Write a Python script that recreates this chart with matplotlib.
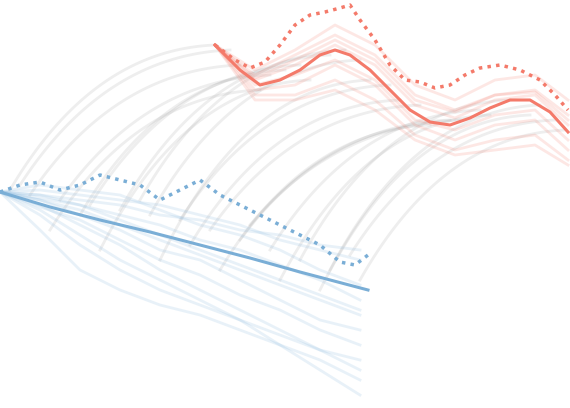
import matplotlib
matplotlib.use("Agg")
import matplotlib.pyplot as plt
import numpy as np

blue_mean_x = [0, 50, 100, 150, 200, 250, 300, 368]
blue_mean_y = [192, 207, 220, 232, 245, 258, 272, 290]
blue_dot_x = [0,20,40,60,80,100,120,140,160,180,200,220,240,260,280,300,320,340,355,368]
blue_dot_y = [192,185,182,190,185,175,180,185,200,190,180,195,205,215,225,235,245,262,265,255]
red_mean_x = [215,240,260,280,300,320,335,350,370,390,410,430,450,470,490,510,530,550,568]
red_mean_y = [45,70,85,80,70,55,50,55,70,90,110,122,125,118,108,100,100,112,132]
red_dot_x = [215,235,250,265,280,295,310,325,340,350,360,375,390,405,420,435,450,465,480,500,520,540,555,568]
red_dot_y = [45,60,68,62,45,25,15,12,8,5,20,40,65,80,82,88,85,75,68,65,70,80,95,110]

faint_blue_x = [0,40,80,120,160,200,240,280,320,360]
faint_blue = [
 [192,200,210,225,240,255,270,285,300,315],
 [192,205,225,245,270,290,310,330,350,370],
 [192,195,200,205,215,220,230,235,245,250],
 [192,210,235,260,280,300,320,345,370,395],
 [192,200,215,230,250,260,280,300,320,330],
 [192,190,195,200,205,215,225,240,250,260],
 [192,215,245,270,290,305,320,335,350,360],
 [192,198,205,220,235,250,265,280,295,310],
 [192,185,190,195,210,225,235,250,270,285],
 [192,207,220,240,260,275,295,310,330,345],
 [192,230,270,290,305,315,330,345,360,380],
 [192,195,205,215,225,240,250,265,280,300],
]
faint_red_x = [215,255,295,335,375,415,455,495,535,568]
faint_red = [
 [45,90,85,65,85,125,140,125,120,150],
 [45,75,55,35,55,95,110,95,90,115],
 [45,95,95,80,100,135,150,140,135,160],
 [45,70,50,25,45,85,100,80,75,100],
 [45,85,75,60,80,120,130,115,110,140],
 [45,80,65,45,65,105,118,100,95,125],
 [45,100,100,90,110,140,155,150,145,165],
 [45,78,60,40,60,100,112,95,92,120],
]
links = [((10,190),(215,45)),((30,195),(240,65)),((60,200),(270,75)),((90,205),(300,65)),
 ((120,210),(330,55)),((150,215),(360,60)),((180,220),(390,85)),((210,230),(420,105)),
 ((240,240),(450,120)),((270,250),(480,110)),((300,260),(510,100)),((330,270),(540,105)),
 ((360,280),(565,130)),((50,230),(260,90)),((100,250),(310,80)),((160,260),(370,80)),
 ((220,270),(430,125)),((280,280),(490,115)),((320,290),(530,115)),((20,185),(230,50)),
 ((140,200),(345,50)),((250,225),(460,120)),((190,245),(400,100)),((80,215),(285,70)),
 ((350,255),(555,120))]

fig = plt.figure(figsize=(5.7,4.08), dpi=100)
ax = fig.add_axes([0,0,1,1])
ax.set_xlim(0,570); ax.set_ylim(408,0); ax.axis('off')

t = np.linspace(0,1,60)
for (x0,y0),(x1,y1) in links:
    cx, cy = x0 + 0.4*(x1-x0), y1 + 5
    bx = (1-t)**2*x0 + 2*(1-t)*t*cx + t**2*x1
    by = (1-t)**2*y0 + 2*(1-t)*t*cy + t**2*y1
    ax.plot(bx, by, color='#aaaaaa', alpha=0.2, lw=2)
for yy in faint_blue:
    ax.plot(faint_blue_x, yy, color='#8dbbe0', alpha=0.2, lw=2)
for yy in faint_red:
    ax.plot(faint_red_x, yy, color='#f47c6c', alpha=0.18, lw=2)
ax.plot(blue_mean_x, blue_mean_y, color='#7aaed6', lw=2.2)
ax.plot(blue_dot_x, blue_dot_y, color='#7aaed6', lw=2.5, ls=(0,(1,1.5)))
ax.plot(red_mean_x, red_mean_y, color='#f47a6a', lw=2.2)
ax.plot(red_dot_x, red_dot_y, color='#f47a6a', lw=2.5, ls=(0,(1,1.5)))
fig.savefig('out.png', dpi=100)
